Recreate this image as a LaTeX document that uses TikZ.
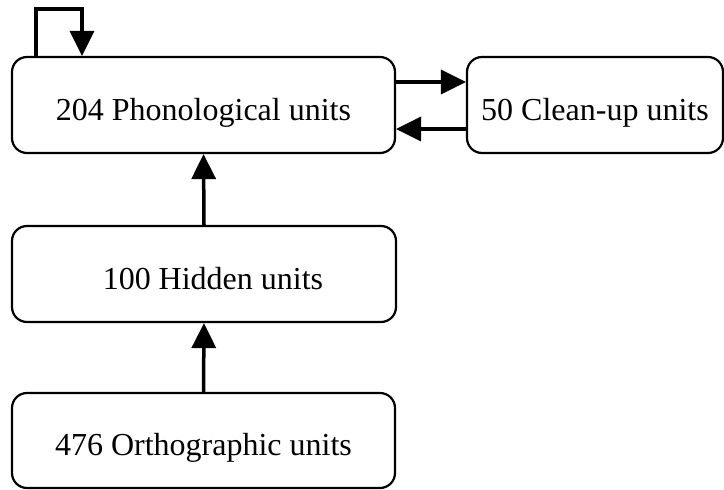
\documentclass[tikz,border=0pt]{standalone}
\usepackage{fontspec}
\setmainfont{Liberation Serif}
\usetikzlibrary{arrows.meta}
\begin{document}
\begin{tikzpicture}[x=1pt,y=-1pt,
  unitbox/.style={draw, line width=2.2pt, rounded corners=15pt, minimum height=96pt,
    text height=30pt, text depth=0pt, inner sep=0pt, font=\fontsize{32}{38}\selectfont},
  conn/.style={line width=3.5pt, -{Triangle[length=25pt,width=24pt]}}]
\useasboundingbox (0,0) rectangle (724,490);
\node[unitbox, minimum width=383pt] (phon) at (203.5,105) {204 Phonological units};
\node[unitbox, minimum width=256pt] (clean) at (595,105) {50 Clean-up units};
\node[unitbox, minimum width=384pt] (hid) at (204,274) {\hspace{18pt}100 Hidden units};
\node[unitbox, minimum width=383pt, minimum height=95pt] (orth) at (203.5,440.5) {476 Orthographic units};
\coordinate (l1) at (36,9);
\coordinate (l2) at (82,9);
\coordinate (up) at (0,82);
\coordinate (dn) at (0,129);
\draw[conn] (orth.north) -- (hid.south);
\draw[conn] (hid.north) -- (phon.south);
\draw[conn] (l1 |- phon.north) -- (l1) -- (l2) -- (l2 |- phon.north);
\draw[conn] (phon.east |- up) -- (clean.west |- up);
\draw[conn] (clean.west |- dn) -- (phon.east |- dn);
\end{tikzpicture}
\end{document}
